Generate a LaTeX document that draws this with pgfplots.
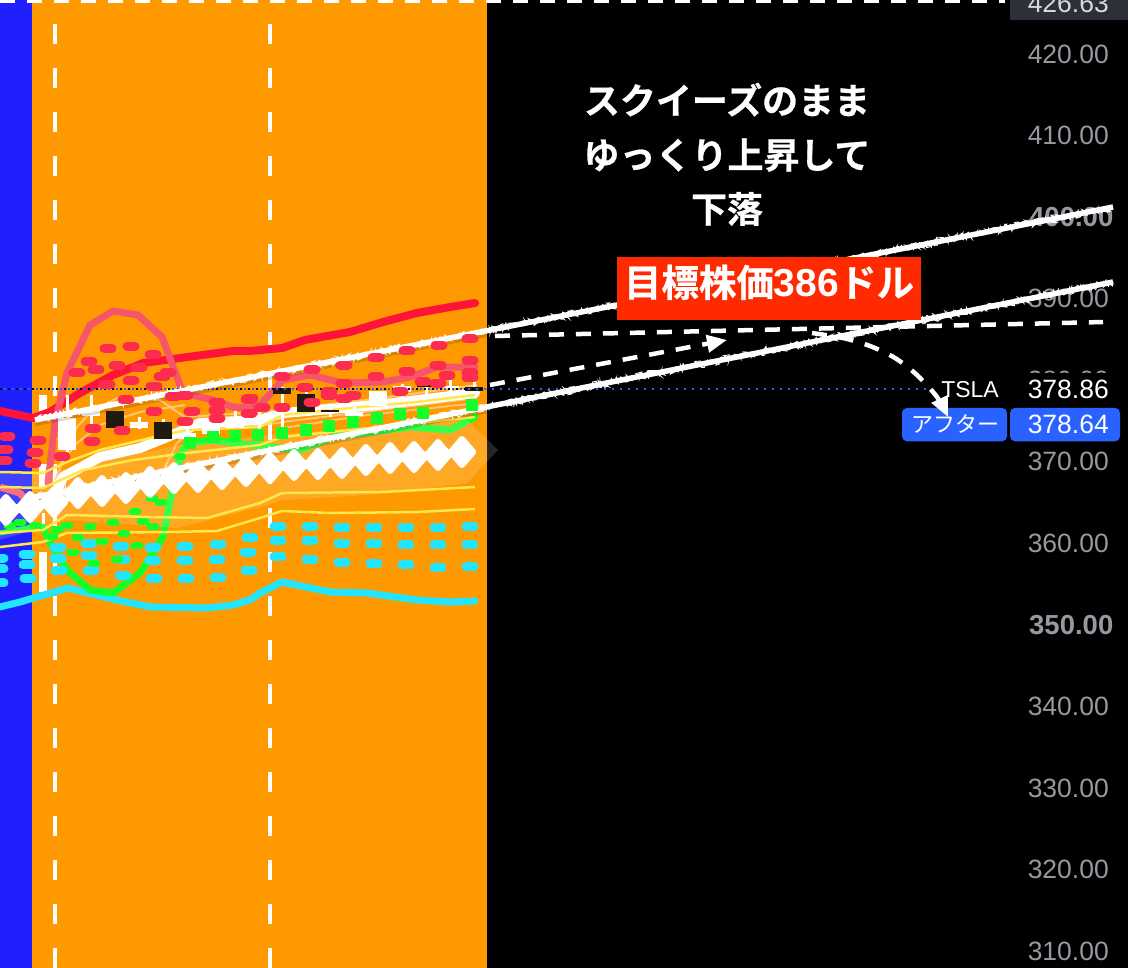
\documentclass[border=0pt]{standalone}
\usepackage{fontspec}
\setmainfont{Liberation Sans}
\newfontfamily\cjk[BoldFont=Noto Sans CJK JP Bold,BoldFeatures={FakeBold=0.7}]{Noto Sans CJK JP}
\usepackage{pgfplots}
\pgfplotsset{compat=1.18}
\usetikzlibrary{arrows.meta,decorations.pathmorphing}
\definecolor{obg}{HTML}{FF9900}
\definecolor{bbg}{HTML}{2020FF}
\definecolor{tred}{HTML}{FF1439}
\definecolor{pred}{HTML}{F7566A}
\definecolor{dred}{HTML}{FB2C4D}
\definecolor{tcy}{HTML}{22E6FF}
\definecolor{tgr}{HTML}{14FF2A}
\definecolor{tye}{HTML}{FFE84A}
\definecolor{tan}{HTML}{FFD49A}
\definecolor{dk}{HTML}{201A10}
\definecolor{lab}{HTML}{2962FF}
\definecolor{tick}{HTML}{96999F}
\definecolor{tagbg}{HTML}{2D3038}
\definecolor{boxred}{HTML}{FF2A00}
\newcommand{\fs}[1]{\fontsize{#1}{#1}\selectfont}
\begin{document}
\begin{tikzpicture}
\pgfmathsetseed{7}
\begin{axis}[
  set layers,
  width=1128pt,height=968pt,scale only axis,
  xmin=0,xmax=1128,ymin=307.92,ymax=426.62,
  hide x axis,
  axis y line*=right,
  axis line style={draw=none},
  axis background/.style={fill=black},
  major tick length=0pt,
  ytick={310,320,330,340,350,360,370,380,390,400,410,420},
  yticklabels={310.00,320.00,330.00,340.00,{\fs{27.5}\textbf{350.00}\kern-4.5pt},360.00,370.00,380.00,390.00,{\fs{27.5}\textbf{400.00}\kern-4.5pt},410.00,420.00},
  yticklabel style={anchor=east,inner sep=0pt,xshift=-19pt,font=\fs{26.5},text=tick},
  unbounded coords=jump,
]
% backgrounds
\addplot[draw=none,fill=bbg] coordinates {(0,307.92)(32,307.92)(32,426.62)(0,426.62)} --cycle;
\addplot[draw=none,fill=obg] coordinates {(32,307.92)(487,307.92)(487,426.62)(32,426.62)} --cycle;
% vertical session lines
\addplot[white,line width=4.5pt,dash pattern=on 20pt off 24pt] coordinates {(55,423.68)(55,307.92)};
\addplot[white,line width=4.5pt,dash pattern=on 20pt off 24pt] coordinates {(270,423.68)(270,307.92)};
% top dashed line
\addplot[white,line width=3pt,dash pattern=on 15pt off 12pt] coordinates {(0,426.45)(1005,426.45)};
% x=43 bar
\addplot[white,line width=8pt] coordinates {(43,378.18)(43,375.73)(43,nan)(43,369.72)(43,366.78)(43,nan)(43,358.93)(43,354.02)};
\addplot[white,line width=3pt] coordinates {(43,363.71)(43,361.63)};
% cyan solid
\addplot[tcy,line width=7pt,line join=round,line cap=round] coordinates {(0,352.19)(20,352.80)(68,354.52)(117,353.04)(150,352.19)(207,352.06)(233,352.43)(250,353.04)(260,353.90)(282,355.25)(330,354.03)(367,353.90)(417,353.04)(450,352.80)(475,352.92)};
% cyan dashes
\addplot[only marks,mark=-,mark size=4pt,tcy,mark options={line width=9pt,line cap=round}] coordinates {(0,358.19)(27,358.68)(58,359.54)(89,360.03)(121,359.66)(153,359.54)(185,359.66)(218,359.91)(250,360.65)(278,362.00)(310,362.00)(342,361.94)(374,361.94)(406,361.94)(438,361.88)(470,362.00)};
\addplot[only marks,mark=-,mark size=4pt,tcy,mark options={line width=9pt,line cap=round}] coordinates {(0,356.85)(27,357.34)(58,358.19)(89,358.56)(122,358.07)(153,357.83)(185,357.83)(217,358.07)(248,358.93)(278,360.28)(310,360.28)(342,360.03)(374,360.03)(406,359.79)(438,359.79)(470,359.91)};
\addplot[only marks,mark=-,mark size=4pt,tcy,mark options={line width=9pt,line cap=round}] coordinates {(0,355.13)(28,355.74)(59,356.72)(91,356.72)(123,355.99)(154,355.62)(186,355.62)(218,355.86)(249,356.72)(278,358.32)(310,358.07)(342,357.70)(374,357.58)(406,357.34)(438,357.09)(470,357.21)};
% green solid
\addplot[tgr,line width=5pt] coordinates {(0,361.26)(33,362.00)};
\addplot[tgr,line width=7pt,line join=round,line cap=round] coordinates {(43,362.00)(50,360.03)(67,356.72)(90,354.27)(113,353.90)(140,356.35)(163,360.77)(173,366.90)(180,370.58)(187,372.30)(213,372.66)(250,372.05)(300,371.44)(333,373.03)(410,374.26)(450,373.89)(475,375.48)};
% green dashes
\addplot[only marks,mark=-,mark size=3pt,tgr,mark options={line width=7pt,line cap=round}] coordinates {(10,362.12)(20,362.49)(35,362.24)(52,360.77)(57,361.63)(67,362.24)(78,360.65)(73,358.81)(90,362.00)(102,360.16)(94,357.58)(113,362.49)(124,361.14)(117,357.95)(137,359.67)(135,363.84)(143,362.73)(153,362.00)(152,365.55)(161,364.94)(180,370.58)};
\addplot[only marks,mark=square*,mark size=5.5pt,tgr,mark options={draw=tgr,fill=tgr,line join=round}] coordinates {(190,372.30)(213,373.03)(235,373.15)(258,373.28)(282,373.52)(306,373.89)(329,374.38)(353,374.87)(377,375.36)(400,375.85)(423,375.97)(472,376.95)};
% red solid
\addplot[tred,line width=8pt,line join=round,line cap=round] coordinates {(0,376.22)(33,375.36)(50,376.10)(80,378.43)(113,380.63)(143,382.10)(180,382.72)(233,383.58)(250,383.58)(282,383.94)(305,384.93)(350,385.91)(383,387.13)(417,388.24)(450,388.97)(475,389.46)};
% red dashes
\addplot[only marks,mark=-,mark size=4pt,dred,mark options={line width=9pt,line cap=round}] coordinates {(7,373.15)(5,371.44)(4,370.09)(38,372.66)(35,371.07)(33,369.84)(77,380.88)(89,382.23)(108,383.94)(131,384.19)(153,383.09)(168,380.88)(96,381.25)(117,381.74)(139,381.61)(162,380.39)(107,379.53)(131,379.90)(154,379.28)(173,377.94)(126,377.57)(154,376.22)(185,378.18)(192,376.22)(185,374.99)(217,377.32)(217,376.34)(217,375.36)(249,377.69)(249,375.97)(93,374.13)(92,372.54)(122,373.77)(62,370.70)(282,380.39)(312,381.25)(344,381.86)(376,382.72)(407,383.58)(439,384.31)(470,385.05)(344,379.65)(376,380.39)(407,381.12)(438,381.86)(470,382.47)(282,376.71)(250,377.81)(262,376.59)(305,379.16)(329,378.55)(329,378.18)(353,378.18)(344,377.81)(312,377.32)(423,379.78)(447,380.63)(438,379.65)(470,380.27)(470,380.88)(400,378.67)};
% pink line
\addplot[pred,line width=7pt,line join=round] coordinates {(0,366.90)(20,366.16)(35,364.08)};
\addplot[pred,line width=7pt,line join=round,line cap=round] coordinates {(48,367.39)(55,374.75)(67,380.88)(90,386.76)(113,388.48)(138,387.99)(162,385.29)(183,378.43)(213,377.57)(233,376.71)(250,376.59)(260,376.95)(283,380.02)(310,380.63)(343,379.65)(383,379.78)(410,380.39)(437,381.61)(475,381.61)};
% halo
\addplot[draw=none,fill=white,fill opacity=0.15] coordinates {(0,368.62)(47,368.62)(110,370.21)(180,372.05)(270,373.28)(340,373.89)(413,374.50)(467,375.12)(498,371.44)(467,367.39)(367,365.92)(283,365.31)(260,364.45)(177,361.87)(67,362.85)(0,360.40)} --cycle;
% tan lines
\addplot[tan,line width=2pt,opacity=.75] coordinates {(55,367.76)(77,374.26)(90,375.97)(117,377.81)(160,377.57)(185,375.48)(260,376.10)(367,377.57)(477,379.41)};
\addplot[tan,line width=2pt,opacity=.75] coordinates {(58,369.35)(77,372.30)(100,374.50)(140,376.10)(185,376.95)};
\addplot[tan,line width=2pt,opacity=.75] coordinates {(160,368.13)(177,372.30)(193,373.89)(250,374.26)(283,374.87)(363,376.10)(477,377.81)};
\addplot[tan,line width=2pt,opacity=.75] coordinates {(283,374.13)(367,375.73)(477,377.20)};
% white band
\addplot[white,line width=10pt,line join=round,line cap=round] coordinates {(57,366.53)(63,368.13)(100,370.58)(140,371.68)(177,373.52)(200,374.75)(260,375.12)(283,375.97)(377,376.95)(475,378.43)};
% yellow
\addplot[tye,line width=2.5pt] coordinates {(0,368.74)(43,368.62)(67,369.97)(100,371.44)(150,372.91)(187,373.89)(260,374.26)(283,375.73)(350,376.59)(417,377.32)(475,378.18)};
\addplot[tye,line width=2.5pt] coordinates {(0,366.90)(43,366.78)(83,368.98)(133,370.21)(187,371.07)(260,372.05)(282,373.03)(350,373.89)(417,374.75)(475,375.48)};
\addplot[tye,line width=2.5pt] coordinates {(0,361.26)(43,361.63)(67,363.47)(150,363.22)(207,363.10)(260,364.94)(282,366.16)(383,366.29)(475,366.90)};
\addplot[tye,line width=2.5pt] coordinates {(0,359.54)(43,360.16)(67,361.26)(167,361.38)(217,361.51)(260,363.10)(282,363.96)(330,363.71)(417,363.83)(475,364.20)};
% diamonds
\addplot[only marks,mark=diamond*,mark size=13pt,mark options={draw=white,fill=white,line width=6pt,line join=round,xscale=1.15}] coordinates {(6,364.08)(30,364.45)(54,365.06)(78,366.16)(102,366.41)(126,366.78)(150,367.51)(174,368.00)(198,368.13)(222,368.49)(246,368.86)(270,369.23)(294,369.60)(318,369.72)(342,369.84)(366,370.21)(390,370.46)(414,370.58)(438,370.82)(462,371.19)};
\addplot[white,line width=9pt] coordinates {(6,364.08)(30,364.45)(54,365.06)(78,366.16)(102,366.41)(126,366.78)(150,367.51)(174,368.00)(198,368.13)(222,368.49)(246,368.86)(270,369.23)(294,369.60)(318,369.72)(342,369.84)(366,370.21)(390,370.46)(414,370.58)(438,370.82)(462,371.19)};
% candle wicks
\addplot[white,line width=3pt] coordinates {(67,378.18)(67,371.19)(67,nan)(91,378.18)(91,373.89)(91,nan)(115,374.13)(115,373.89)(115,nan)(139,375.48)(139,374.01)(139,nan)(163,375.24)(163,374.87)(163,nan)(187,374.13)(187,372.54)(187,nan)(235,376.22)(235,375.36)(235,nan)(259,376.59)(259,373.52)(259,nan)(282,379.16)(282,373.03)(282,nan)(306,379.16)(306,378.30)(306,nan)(330,376.95)(330,375.48)(330,nan)(354,377.32)(354,375.97)(354,nan)(402,379.53)(402,377.81)(402,nan)(426,379.90)(426,378.30)(426,nan)(450,380.02)(450,378.67)(450,nan)(474,380.39)(474,379.16)};
% candle bodies
\addplot[white,line width=18pt] coordinates {(67,375.36)(67,371.44)(67,nan)(91,376.22)(91,375.61)(91,nan)(139,374.87)(139,374.13)(139,nan)(187,373.52)(187,372.79)(187,nan)(211,374.87)(211,373.40)(211,nan)(235,375.36)(235,374.13)(235,nan)(354,376.10)(354,375.61)(354,nan)(378,378.67)(378,376.83)(378,nan)(402,379.28)(402,378.55)(402,nan)(450,379.28)(450,379.04)};
\addplot[dk,line width=18pt] coordinates {(115,376.22)(115,374.13)(115,nan)(163,374.87)(163,372.79)(163,nan)(282,379.04)(282,378.30)(282,nan)(306,378.30)(306,376.10)(306,nan)(330,376.34)(330,376.10)(330,nan)(426,379.41)(426,379.16)(426,nan)(474,379.16)(474,378.67)};
\addplot[dk,line width=8pt] coordinates {(0,363.71)(0,363.22)};
% last price dotted
\addplot[lab,line width=2pt,dash pattern=on 2pt off 6pt] coordinates {(4,378.86)(932,378.86)};
\addplot[black,line width=2pt,dash pattern=on 2pt off 6pt] coordinates {(0,378.86)(487,378.86)};
% trend lines, chalk
\addplot[black,opacity=.15,line width=6pt] coordinates {(35,374.72)(487,385.67)};
\addplot[black,opacity=.15,line width=6pt] coordinates {(35,365.27)(487,376.33)};
\addplot[white,line width=5.5pt] coordinates {(35,375.12)(1113,401.23)};
\addplot[white,line width=5.5pt] coordinates {(35,365.67)(1113,392.04)};
\addplot[white,line width=.9pt,decorate,decoration={random steps,segment length=1pt,amplitude=4pt}] coordinates {(35,375.12)(1113,401.23)};
\addplot[white,line width=.9pt,decorate,decoration={random steps,segment length=1pt,amplitude=4pt}] coordinates {(35,365.67)(1113,392.04)};
% dashed arrows
\addplot[white,line width=4.5pt,dash pattern=on 15pt off 12pt] coordinates {(495,385.42)(1103,387.13)};
\addplot[white,line width=4.5pt,dash pattern=on 15pt off 12pt,-{Triangle[length=20pt,width=17pt]}] coordinates {(490,379.41)(727,384.93)};
% right labels
\fill[black] (axis cs:935,380.85) rectangle (axis cs:1128,376.6);
\node[anchor=east,inner sep=0pt,text=white,font=\fs{23}] at (axis cs:999,378.86) {TSLA};
\node[anchor=east,inner sep=0pt,text=white,font=\fs{26.5}] at (axis cs:1109,378.86) {378.86};
\fill[lab,rounded corners=5pt] (axis cs:902,376.6) -- (axis cs:1007,376.6) -- (axis cs:1007,372.5) -- (axis cs:902,372.5) -- cycle;
\fill[lab,rounded corners=5pt] (axis cs:1010,376.6) -- (axis cs:1120,376.6) -- (axis cs:1120,372.5) -- (axis cs:1010,372.5) -- cycle;
\node[inner sep=0pt,text=white,font=\cjk\fs{22}] at (axis cs:955,374.6) {アフター};
\node[anchor=east,inner sep=0pt,text=white,font=\fs{26.5}] at (axis cs:1109,374.6) {378.64};
\fill[tagbg] (axis cs:1010,426.62) rectangle (axis cs:1128,424.2);
\node[anchor=east,inner sep=0pt,text=white!70!gray,font=\fs{26.5}] at (axis cs:1109,426.25) {426.63};
% curved arrow over the labels
\addplot[white,line width=4.5pt,dash pattern=on 15pt off 12pt,smooth,-{Triangle[length=20pt,width=17pt]}] coordinates {(812,385.78)(843,385.17)(870,384.19)(895,382.72)(917,380.63)(937,377.94)(948,375.48)};
% annotation
\node[inner sep=0pt,text=white,font=\cjk\bfseries\fs{36}] at (axis cs:727,414.4) {スクイーズのまま};
\node[inner sep=0pt,text=white,font=\cjk\bfseries\fs{36}] at (axis cs:727,407.6) {ゆっくり上昇して};
\node[inner sep=0pt,text=white,font=\cjk\bfseries\fs{36}] at (axis cs:727,401.0) {下落};
\fill[boxred] (axis cs:617,395.1) rectangle (axis cs:921,387.4);
\node[inner sep=0pt,text=white,font=\cjk\bfseries\fs{37.5}] at (axis cs:769,392.0) {目標株価{\fontspec{Liberation Sans}\bfseries\fs{39}386}ドル};
\end{axis}
\pgfresetboundingbox
\path[use as bounding box] (0,0) rectangle (1128pt,968pt);
\end{tikzpicture}
\end{document}
